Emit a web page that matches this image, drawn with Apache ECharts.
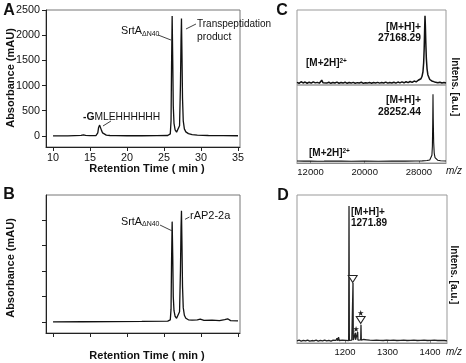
<!DOCTYPE html>
<html><head><meta charset="utf-8">
<script src="https://cdn.jsdelivr.net/npm/echarts@6/dist/echarts.min.js"></script>
<style>html,body{margin:0;padding:0;background:#fff}#c{width:466px;height:363px}</style>
</head><body><div id="c"></div>
<script>
const FONT = '"Liberation Sans", Arial, Helvetica, sans-serif';

// ---- Panel A: HPLC trace ----
const aTime = [10, 12, 13.8, 14.1, 14.4, 15, 15.8, 16.05, 16.15, 16.3, 16.4, 16.55, 16.7, 16.9, 17.2, 17.7, 18.5, 20, 22, 24, 25.5, 25.85, 25.95, 26.02, 26.1, 26.18, 26.25, 26.35, 26.5, 26.7, 26.9, 27.1, 27.22, 27.3, 27.36, 27.42, 27.5, 27.6, 27.75, 27.95, 28.3, 28.8, 29.5, 31, 33, 35];
const aAbs  = [0, 2, 10, 22, 10, 4, 8, 60, 160, 215, 180, 110, 60, 30, 15, 8, 5, 3, 3, 4, 8, 40, 300, 1400, 2380, 1500, 600, 250, 120, 75, 85, 200, 1000, 1900, 2330, 1700, 750, 300, 140, 80, 45, 25, 15, 8, 5, 3];

// ---- Panel B: HPLC trace ----
const bTime = [10, 14, 18, 22, 25.5, 25.85, 25.95, 26.02, 26.1, 26.18, 26.25, 26.35, 26.5, 26.7, 26.9, 27.1, 27.22, 27.3, 27.36, 27.42, 27.5, 27.6, 27.75, 27.95, 28.3, 28.8, 29.5, 29.9, 30.4, 31.5, 32.5, 33.2, 33.6, 34.0, 35];
const bAbs  = [0, 2, 5, 8, 15, 40, 250, 1200, 1975, 1300, 500, 220, 110, 70, 80, 200, 1000, 1850, 2190, 1600, 700, 280, 130, 70, 40, 35, 40, 55, 30, 35, 25, 45, 60, 25, 20];

const retTicks = [10, 15, 20, 25, 30, 35];
const absTicksA = [0, 500, 1000, 1500, 2000, 2500];
const absTicksB = [0, 500, 1000, 1500, 2000];

// ---- Panel C: MALDI spectra (upper / lower) ----
const cTopMz  = [10000, 10300, 10600, 10900, 11200, 11500, 11800, 12100, 12400, 12700, 13000, 13300, 13550, 13650, 13700, 13750, 13850, 14100, 14400, 14700, 15000, 15300, 15600, 15900, 16200, 16500, 16800, 17100, 17400, 17700, 18000, 18300, 18600, 18900, 19200, 19500, 19800, 20100, 20400, 20700, 21000, 21300, 21600, 21900, 22200, 22500, 22800, 23100, 23400, 23700, 24000, 24300, 24600, 24900, 25200, 25500, 25800, 26100, 26400, 26700, 27000, 27300, 27600, 27900, 28100, 28300, 28450, 28600, 28700, 28780, 28850, 28900, 28950, 29020, 29100, 29200, 29320, 29450, 29600, 29750, 29900, 30100, 30300, 30550, 30800, 31100, 31400, 31700, 32000];
const cTopInt = [1.5, 0.3, 2.4, 0.8, 2.0, 0.4, 1.8, 0.6, 2.2, 0.9, 1.6, 0.5, 1.9, 4.5, 7.0, 3.2, 1.0, 2.1, 0.6, 1.7, 0.3, 1.5, 0.7, 1.9, 0.4, 1.3, 0.6, 1.8, 0.3, 1.4, 0.6, 1.6, 0.4, 1.2, 0.7, 1.7, 0.3, 1.1, 0.6, 1.5, 0.4, 1.3, 0.8, 1.6, 0.5, 1.4, 0.7, 1.9, 0.5, 1.5, 0.8, 1.8, 0.6, 2.0, 0.9, 2.2, 1.0, 2.4, 1.3, 2.8, 1.6, 3.4, 2.3, 4.5, 3.8, 6.5, 9.5, 16, 28, 48, 75, 92, 80, 55, 34, 20, 12, 9, 5.5, 6.2, 3.5, 4.0, 2.2, 2.6, 1.2, 1.8, 0.7, 1.3, 0.8];
const cBotMz  = [10000, 11000, 12000, 13000, 14000, 14200, 14280, 14360, 15000, 16500, 18000, 20000, 22000, 24000, 26000, 27500, 28500, 29200, 29600, 29800, 29920, 29990, 30040, 30080, 30120, 30180, 30260, 30380, 30550, 30800, 31200, 32000];
const cBotInt = [0.6, 0.4, 0.5, 0.3, 0.5, 0.6, 2.5, 0.6, 0.4, 0.5, 0.3, 0.4, 0.3, 0.5, 0.4, 0.6, 0.8, 1.2, 2.0, 3.5, 8, 20, 50, 88, 55, 25, 11, 5, 2.6, 1.5, 0.9, 0.6];
const cTicks = [12000, 20000, 28000];

// ---- Panel D: MALDI peptide spectrum ----
const dMz  = [1087, 1092, 1097, 1102, 1107, 1112, 1117, 1122, 1127, 1132, 1137, 1142, 1147, 1152, 1157, 1162, 1167, 1172, 1176, 1179, 1181, 1183, 1184.7, 1186.5, 1188, 1190, 1194, 1198, 1202, 1206, 1208.6, 1209.4, 1210.2, 1213, 1216, 1218.1, 1218.8, 1219.5, 1221, 1223.6, 1224.2, 1224.8, 1226.5, 1229.2, 1229.8, 1230.4, 1233, 1236.9, 1237.6, 1238.3, 1241, 1244, 1246, 1248, 1251, 1254, 1258, 1262, 1266, 1270, 1274, 1278, 1282, 1286, 1290, 1294, 1298, 1302, 1306, 1310, 1314, 1318, 1322, 1326, 1330, 1334, 1338, 1342, 1346, 1350, 1354, 1358, 1362, 1366, 1370, 1374, 1378, 1382, 1386, 1390, 1394, 1398, 1402, 1406, 1410, 1414, 1418, 1422, 1426, 1430, 1434, 1440];
const dInt = [0.5, 0.9, 0.3, 0.8, 0.4, 1.0, 0.3, 0.7, 0.4, 0.9, 0.3, 0.8, 0.5, 1.0, 0.4, 0.8, 0.3, 0.9, 0.5, 0.8, 2.2, 0.6, 3.0, 0.7, 1.8, 0.5, 0.9, 0.4, 0.8, 0.5, 0.6, 92.5, 0.8, 0.5, 0.9, 0.7, 40, 1.0, 0.8, 1.2, 6.0, 1.2, 0.9, 1.0, 6.5, 1.0, 0.8, 1.2, 11.5, 1.0, 0.7, 1.4, 2.0, 0.6, 1.2, 0.5, 0.9, 0.4, 0.8, 0.3, 0.9, 0.4, 0.8, 0.3, 0.7, 0.4, 0.9, 0.3, 0.8, 0.5, 0.9, 0.3, 0.7, 0.4, 0.8, 0.3, 0.9, 0.4, 0.7, 0.3, 0.8, 0.4, 0.9, 0.3, 0.7, 0.4, 0.8, 0.3, 0.9, 0.4, 0.7, 0.3, 0.8, 0.4, 0.9, 0.3, 0.7, 0.4, 0.8, 0.3, 0.7, 0.4];
const dTicks = [1200, 1300, 1400];
// open triangles and stars marking peaks in D (data coordinates)
const dTriangles = [[1218.1, 42.7], [1236.9, 14.7]];
const dStars = [[1236.9, 19.5], [1226.0, 8.6]];

const zip = (xs, ys) => xs.map((x, i) => [x, ys[i]]);
const plain = v => String(v);

const chart = echarts.init(document.getElementById('c'), null, {renderer: 'canvas', width: 466, height: 363});

function hplcX(g, showLabels) {
  return {gridIndex: g, type: 'value', min: 9.05, max: 35.27,
    axisLine: {show: true, onZero: false, lineStyle: {color: '#222', width: 1}},
    axisTick: {show: true, inside: false, length: 4, customValues: retTicks, lineStyle: {color: '#222'}},
    axisLabel: {show: showLabels, customValues: retTicks, formatter: plain, margin: 6, fontSize: 10.8, color: '#111', fontFamily: FONT},
    splitLine: {show: false}};
}
function hplcY(g, showLabels, ticks) {
  return {gridIndex: g, type: 'value', min: -220, max: 2500,
    axisLine: {show: true, onZero: false, lineStyle: {color: '#222', width: 1}},
    axisTick: {show: true, inside: false, length: 4, customValues: ticks, lineStyle: {color: '#222'}},
    axisLabel: {show: showLabels, customValues: ticks, formatter: plain, margin: 6, fontSize: 10.8, color: '#111', fontFamily: FONT},
    splitLine: {show: false}};
}
function msX(g, min, max, ticks, show) {
  return {gridIndex: g, type: 'value', min: min, max: max, show: true,
    axisLine: {show: show, onZero: false, lineStyle: {color: '#888', width: 1}},
    axisTick: {show: show, inside: true, length: 2, customValues: ticks, lineStyle: {color: '#888'}},
    axisLabel: {show: show, customValues: ticks, formatter: plain, margin: 4, fontSize: 9.5, color: '#111', fontFamily: FONT},
    splitLine: {show: false}};
}
function msY(g, min, max) {
  return {gridIndex: g, type: 'value', min: min, max: max, show: false, splitLine: {show: false}};
}
const lineS = (xi, data, w, col) => ({type: 'line', xAxisIndex: xi, yAxisIndex: xi, data: data,
  showSymbol: false, symbol: 'none', silent: true, animation: false,
  lineStyle: {color: col || '#111', width: w || 1.2}});
const leader = (pairs) => ({silent: true, symbol: 'none', animation: false, label: {show: false},
  lineStyle: {color: '#111', width: 0.8, type: 'solid'},
  data: pairs.map(p => [{coord: p[0]}, {coord: p[1]}])});

const sA = lineS(0, zip(aTime, aAbs), 1.3);
sA.markLine = leader([[[24.19, 2004], [25.94, 1904]], [[27.97, 2123], [29.32, 2222]], [[16.75, 197], [17.83, 296]]]);
const sB = lineS(1, zip(bTime, bAbs), 1.3);
sB.markLine = leader([[[24.46, 1908], [26.04, 1796]], [[27.84, 2021], [28.44, 2066]]]);
const sD = lineS(4, zip(dMz, dInt), 1.3, '#222');
const triPath = 'path://M0,0 L10,0 L5,8 Z';
const starPath = 'path://M5,0 L6.2,3.6 L10,3.6 L6.9,5.8 L8.1,9.5 L5,7.2 L1.9,9.5 L3.1,5.8 L0,3.6 L3.8,3.6 Z';
sD.markPoint = {silent: true, animation: false, label: {show: false},
  data: dTriangles.map(c => ({coord: c, symbol: triPath, symbolSize: [9, 7], itemStyle: {color: '#fff', borderColor: '#222', borderWidth: 1}}))
    .concat(dStars.map(c => ({coord: c, symbol: starPath, symbolSize: [6, 6], itemStyle: {color: '#222'}})))};

function txt(x, y, text, o) {
  o = o || {};
  return {type: 'text', x: x, y: y, rotation: o.rot || 0, silent: true,
    style: {text: text, fill: '#111', fontSize: o.size || 10.5, fontWeight: o.bold ? 'bold' : 'normal',
      fontStyle: o.italic ? 'italic' : 'normal', fontFamily: FONT,
      align: o.align || 'left', verticalAlign: 'middle', rich: o.rich}};
}
const richG = {b: {fontWeight: 'bold', fontSize: 10.3, fontFamily: FONT, fill: '#111'}, n: {fontSize: 10.3, fontFamily: FONT, fill: '#111'}};

const graphics = [
  txt(9, 11, 'A', {bold: true, size: 16, align: 'center'}),
  txt(9, 195, 'B', {bold: true, size: 16, align: 'center'}),
  txt(282, 11, 'C', {bold: true, size: 16, align: 'center'}),
  txt(283, 196, 'D', {bold: true, size: 16, align: 'center'}),
  txt(11, 78, 'Absorbance (mAU)', {bold: true, size: 11, align: 'center', rot: Math.PI / 2}),
  txt(11, 268, 'Absorbance (mAU)', {bold: true, size: 11, align: 'center', rot: Math.PI / 2}),
  txt(147, 169, 'Retention Time ( min )', {bold: true, size: 11, align: 'center'}),
  txt(147, 356, 'Retention Time ( min )', {bold: true, size: 11, align: 'center'}),
  txt(121, 31.5, 'SrtA', {size: 10.8}),
  txt(142, 34, 'ΔN40', {size: 7}),
  txt(197, 24.5, 'Transpeptidation', {size: 10}),
  txt(197, 37, 'product', {size: 10.3}),
  txt(83, 117, '{b|-G}{n|MLEHHHHHH}', {rich: richG}),
  txt(121, 222, 'SrtA', {size: 10.8}),
  txt(142, 224.5, 'ΔN40', {size: 7}),
  txt(190, 215.5, 'rAP2-2a', {size: 11}),
  // panel C labels
  txt(421, 27, '[M+H]+', {bold: true, size: 10.3, align: 'right'}),
  txt(421, 38.5, '27168.29', {bold: true, size: 10.3, align: 'right'}),
  txt(306, 63.5, '[M+2H]', {bold: true, size: 10}),
  txt(339.5, 61.5, '2+', {bold: true, size: 6.5}),
  txt(421, 100, '[M+H]+', {bold: true, size: 10.3, align: 'right'}),
  txt(421, 112, '28252.44', {bold: true, size: 10.3, align: 'right'}),
  txt(309, 153, '[M+2H]', {bold: true, size: 10}),
  txt(342.5, 151, '2+', {bold: true, size: 6.5}),
  txt(455, 87, 'Intens. [a.u.]', {bold: true, size: 10, align: 'center', rot: -Math.PI / 2}),
  txt(446, 171, 'm/z', {italic: true, size: 10}),
  // panel D labels
  txt(351, 212, '[M+H]+', {bold: true, size: 10}),
  txt(351, 223, '1271.89', {bold: true, size: 10}),
  txt(454, 275, 'Intens. [a.u.]', {bold: true, size: 10, align: 'center', rot: -Math.PI / 2}),
  txt(446, 352, 'm/z', {italic: true, size: 10})
];

chart.setOption({
  animation: false,
  backgroundColor: '#fff',
  grid: [
    {left: 46, top: 10, width: 194, height: 137, show: true, borderColor: '#777', borderWidth: 1, containLabel: false},
    {left: 46, top: 195, width: 194, height: 138, show: true, borderColor: '#777', borderWidth: 1, containLabel: false},
    {left: 297, top: 10, width: 149, height: 75, show: true, borderColor: '#999', borderWidth: 1, containLabel: false},
    {left: 297, top: 85, width: 149, height: 78, show: true, borderColor: '#999', borderWidth: 1, containLabel: false},
    {left: 297, top: 195, width: 150, height: 148, show: true, borderColor: '#999', borderWidth: 1, containLabel: false}
  ],
  xAxis: [hplcX(0, true), hplcX(1, false), msX(2, 10000, 32000, cTicks, false), msX(3, 10000, 32000, cTicks, true), msX(4, 1087, 1440, dTicks, true)],
  yAxis: [hplcY(0, true, absTicksA), hplcY(1, false, absTicksB), msY(2, -2, 100), msY(3, -2, 100), msY(4, -1, 100)],
  series: [sA, sB, lineS(2, zip(cTopMz, cTopInt), 1.5), lineS(3, zip(cBotMz, cBotInt), 1.1), sD],
  graphic: graphics
});
</script></body></html>
